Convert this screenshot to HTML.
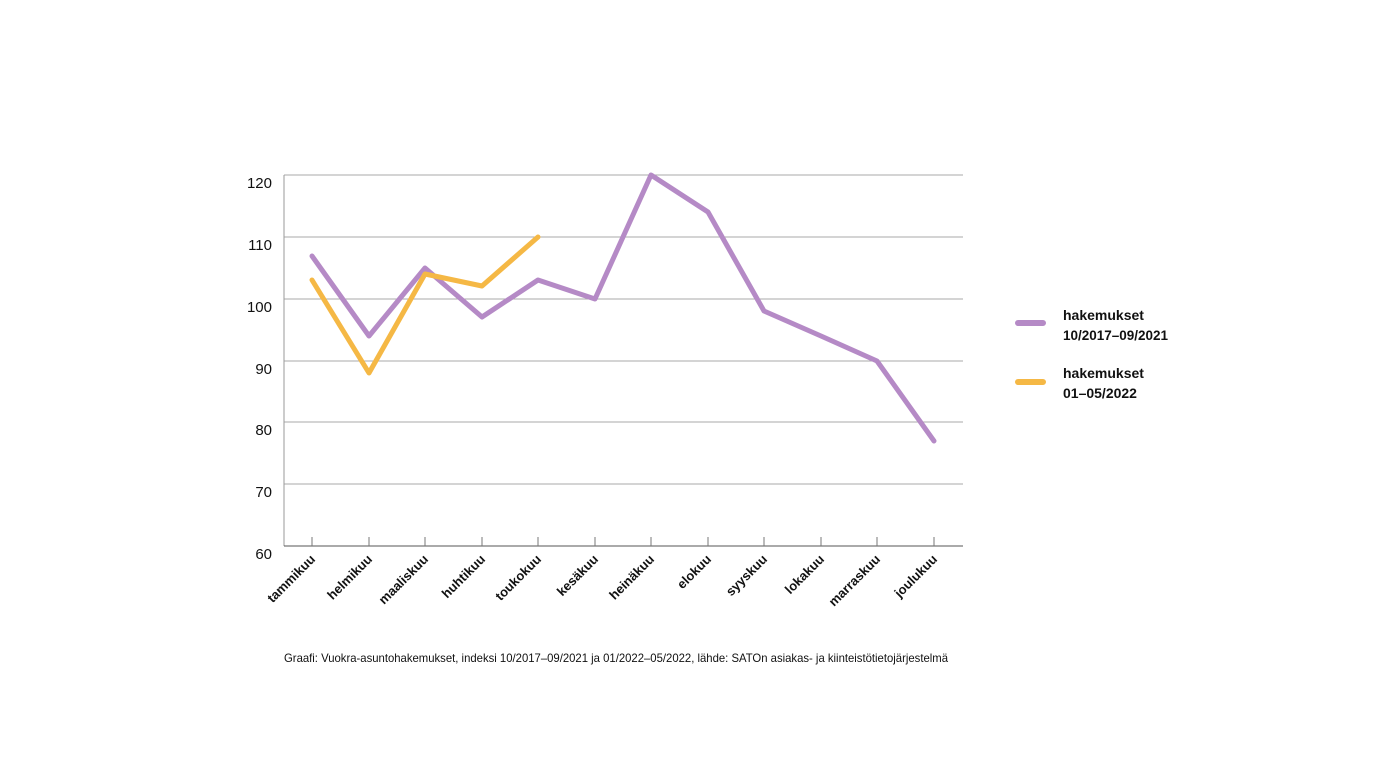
<!DOCTYPE html>
<html><head><style>body{margin:0;background:#fff}</style></head><body>
<svg width="1380" height="776" xmlns="http://www.w3.org/2000/svg" font-family="Liberation Sans, sans-serif">
<g stroke="#aaa" stroke-width="1">
<line x1="284" y1="175" x2="963" y2="175"/><line x1="284" y1="237" x2="963" y2="237"/>
<line x1="284" y1="299" x2="963" y2="299"/><line x1="284" y1="361" x2="963" y2="361"/>
<line x1="284" y1="422" x2="963" y2="422"/><line x1="284" y1="484" x2="963" y2="484"/>
</g>
<line x1="284" y1="175" x2="284" y2="546" stroke="#999"/>
<line x1="284" y1="546" x2="963" y2="546" stroke="#555"/>
<g stroke="#777"><line x1="312" y1="537" x2="312" y2="546"/><line x1="369" y1="537" x2="369" y2="546"/><line x1="425" y1="537" x2="425" y2="546"/><line x1="482" y1="537" x2="482" y2="546"/><line x1="538" y1="537" x2="538" y2="546"/><line x1="595" y1="537" x2="595" y2="546"/><line x1="651" y1="537" x2="651" y2="546"/><line x1="708" y1="537" x2="708" y2="546"/><line x1="764" y1="537" x2="764" y2="546"/><line x1="821" y1="537" x2="821" y2="546"/><line x1="877" y1="537" x2="877" y2="546"/><line x1="934" y1="537" x2="934" y2="546"/></g>
<g font-size="15" fill="#111" text-anchor="end">
<text x="272" y="188">120</text><text x="272" y="250">110</text><text x="272" y="312">100</text><text x="272" y="374">90</text><text x="272" y="435">80</text><text x="272" y="497">70</text><text x="272" y="559">60</text>
</g>
<g font-size="13" font-weight="bold" fill="#111" text-anchor="end">
<text transform="translate(316,560) rotate(-45)">tammikuu</text>
<text transform="translate(373,560) rotate(-45)">helmikuu</text>
<text transform="translate(429,560) rotate(-45)">maaliskuu</text>
<text transform="translate(486,560) rotate(-45)">huhtikuu</text>
<text transform="translate(542,560) rotate(-45)">toukokuu</text>
<text transform="translate(599,560) rotate(-45)">kesäkuu</text>
<text transform="translate(655,560) rotate(-45)">heinäkuu</text>
<text transform="translate(712,560) rotate(-45)">elokuu</text>
<text transform="translate(768,560) rotate(-45)">syyskuu</text>
<text transform="translate(825,560) rotate(-45)">lokakuu</text>
<text transform="translate(881,560) rotate(-45)">marraskuu</text>
<text transform="translate(938,560) rotate(-45)">joulukuu</text>
</g>
<polyline fill="none" stroke="#b58ac6" stroke-width="5" stroke-linecap="round" stroke-linejoin="round" points="312,256 369,336 425,268 482,317 538,280 595,299 651,175 708,212 764,311 821,336 877,361 934,441"/>
<polyline fill="none" stroke="#f5b845" stroke-width="5" stroke-linecap="round" stroke-linejoin="round" points="312,280 369,373 425,274 482,286 538,237"/>
<line x1="1018" y1="323" x2="1043" y2="323" stroke="#b58ac6" stroke-width="6" stroke-linecap="round"/>
<line x1="1018" y1="382" x2="1043" y2="382" stroke="#f5b845" stroke-width="6" stroke-linecap="round"/>
<g font-size="14" font-weight="bold" fill="#111">
<text x="1063" y="320">hakemukset</text><text x="1063" y="340" textLength="105" lengthAdjust="spacingAndGlyphs">10/2017–09/2021</text>
<text x="1063" y="378">hakemukset</text><text x="1063" y="398">01–05/2022</text>
</g>
<text x="284" y="662" font-size="12" fill="#111" textLength="664" lengthAdjust="spacingAndGlyphs">Graafi: Vuokra-asuntohakemukset, indeksi 10/2017–09/2021 ja 01/2022–05/2022, lähde: SATOn asiakas- ja kiinteistötietojärjestelmä</text>
</svg>
</body></html>
